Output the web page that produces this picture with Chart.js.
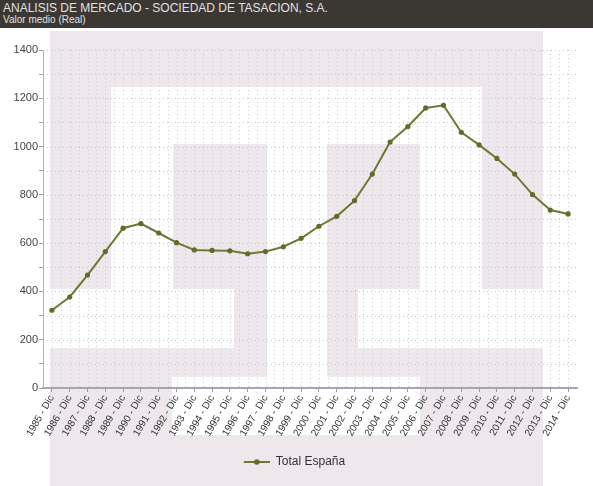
<!DOCTYPE html>
<html>
<head>
<meta charset="utf-8">
<script src="https://cdn.jsdelivr.net/npm/chart.js@4.4.1/dist/chart.umd.min.js"></script>
<style>
  html, body { margin: 0; padding: 0; background: #ffffff; }
  #wrap { position: relative; width: 593px; height: 486px; overflow: hidden; }
  #chart { position: absolute; left: 0; top: 0; }
  #head {
    position: absolute; left: 0; top: 0; width: 593px; height: 28px;
    background: #3b3834; color: #e0e0e0;
    font-family: "Liberation Sans", Arial, sans-serif;
  }
  #head .t1 { position: absolute; left: 3px; top: 1px; font-size: 12px; line-height: 14px; white-space: nowrap; }
  #head .t2 { position: absolute; left: 3px; top: 14px; font-size: 10px; line-height: 12px; white-space: nowrap; }
</style>
</head>
<body>
<div id="wrap">
  <canvas id="chart" width="593" height="486"></canvas>
  <div id="head">
    <div class="t1">ANALISIS DE MERCADO - SOCIEDAD DE TASACION, S.A.</div>
    <div class="t2">Valor medio (Real)</div>
  </div>
</div>
<script>
// Periods on the x axis
const categories = [
  '1985 - Dic', '1986 - Dic', '1987 - Dic', '1988 - Dic', '1989 - Dic',
  '1990 - Dic', '1991 - Dic', '1992 - Dic', '1993 - Dic', '1994 - Dic',
  '1995 - Dic', '1996 - Dic', '1997 - Dic', '1998 - Dic', '1999 - Dic',
  '2000 - Dic', '2001 - Dic', '2002 - Dic', '2003 - Dic', '2004 - Dic',
  '2005 - Dic', '2006 - Dic', '2007 - Dic', '2008 - Dic', '2009 - Dic',
  '2010 - Dic', '2011 - Dic', '2012 - Dic', '2013 - Dic', '2014 - Dic'
];

// Valor medio real, Total España
const totalEspana = [
  322, 377, 468, 565, 662, 681, 642, 602, 572, 570,
  568, 556, 565, 585, 620, 670, 711, 776, 886, 1019,
  1083, 1160, 1171, 1059, 1007, 951, 886, 801, 737, 721
];

const seriesName = 'Total España';
const yMin = 0, yMax = 1400, yStep = 100, yLabelStep = 200;

const LINE = '#6f7833';
const DOT = '#626c2a';
const FONT = '"Liberation Sans", Arial, sans-serif';

// Company logo watermark behind the plot (canvas pixels)
const logoBlocks = [
  [50, 31, 543, 87],
  [50, 87, 111, 289],
  [482, 87, 543, 289],
  [173, 144, 267, 289],
  [234, 289, 267, 377],
  [327, 144, 420, 289],
  [327, 289, 358, 377],
  [50, 348, 267, 377],
  [327, 348, 543, 377],
  [50, 377, 172, 435],
  [420, 377, 543, 435],
  [50, 435, 543, 486]
];

const backdrop = {
  id: 'backdrop',
  beforeDraw(chart) {
    const ctx = chart.ctx;
    ctx.save();
    ctx.fillStyle = '#ffffff';
    ctx.fillRect(0, 0, chart.width, chart.height);
    ctx.fillStyle = '#eee8ed';
    logoBlocks.forEach(([x1, y1, x2, y2]) => ctx.fillRect(x1, y1, x2 - x1, y2 - y1));
    ctx.restore();
  },
  beforeDatasetsDraw(chart) {
    // dotted grid: horizontal every 100, vertical at each period and half period
    const {ctx, chartArea: a, scales: {x, y}} = chart;
    ctx.save();
    ctx.lineWidth = 1;
    ctx.strokeStyle = '#c9c9d4';
    ctx.setLineDash([1, 3]);
    for (let v = yMin + yStep; v <= yMax; v += yStep) {
      const py = Math.round(y.getPixelForValue(v)) + 0.5;
      ctx.beginPath(); ctx.moveTo(a.left, py); ctx.lineTo(a.right, py); ctx.stroke();
    }
    const n = categories.length;
    for (let i = 0; i < n; i++) {
      const px = x.getPixelForTick(i);
      const half = i < n - 1 ? (x.getPixelForTick(i + 1) - px) / 2 : (px - x.getPixelForTick(i - 1)) / 2;
      [px, px + half].forEach(p => {
        if (p >= a.right - 1) return;
        const q = Math.round(p) + 0.5;
        ctx.beginPath(); ctx.moveTo(q, a.top); ctx.lineTo(q, a.bottom); ctx.stroke();
      });
    }
    ctx.restore();
  }
};

// legend marker: short line with a dot (left margin keeps the item centred)
function legendMarker() {
  const c = document.createElement('canvas');
  c.width = 38; c.height = 8;
  const g = c.getContext('2d');
  g.strokeStyle = LINE; g.lineWidth = 2;
  g.beginPath(); g.moveTo(12, 4); g.lineTo(38, 4); g.stroke();
  g.fillStyle = DOT;
  g.beginPath(); g.arc(25, 4, 2.8, 0, Math.PI * 2); g.fill();
  return c;
}
const marker = legendMarker();

new Chart(document.getElementById('chart'), {
  type: 'line',
  data: {
    labels: categories,
    datasets: [{
      label: seriesName,
      data: totalEspana,
      borderColor: LINE,
      backgroundColor: DOT,
      borderWidth: 2,
      pointRadius: 2.6,
      pointBackgroundColor: DOT,
      pointBorderWidth: 0,
      tension: 0,
      fill: false
    }]
  },
  options: {
    responsive: false,
    animation: false,
    layout: { padding: { left: 0, right: 16, top: 50, bottom: 8 } },
    plugins: {
      tooltip: { enabled: false },
      title: { display: false },
      legend: {
        position: 'bottom',
        labels: {
          usePointStyle: true,
          pointStyleWidth: 38,
          color: '#333333',
          font: { family: FONT, size: 12 },
          padding: 10,
          generateLabels(chart) {
            return chart.data.datasets.map((d, i) => ({
              text: d.label, pointStyle: marker, fontColor: '#333333',
              lineWidth: 0, strokeStyle: 'transparent', fillStyle: 'transparent',
              datasetIndex: i, hidden: false
            }));
          }
        }
      }
    },
    scales: {
      x: {
        type: 'category',
        offset: true,
        grid: { drawOnChartArea: false, drawTicks: true, tickLength: 4, tickColor: '#9a9aa8', offset: false },
        border: { display: true, color: '#a4a4b4', width: 2 },
        ticks: {
          autoSkip: false, minRotation: 60, maxRotation: 60,
          color: '#333333', font: { family: FONT, size: 10 }, padding: 1
        },
        afterFit(s) { s.height = 58; }
      },
      y: {
        min: yMin, max: yMax,
        grid: { drawOnChartArea: false, drawTicks: true, tickLength: 4, tickColor: '#a0a0a8' },
        border: { display: true, color: '#b0b0b8', width: 1 },
        ticks: {
          stepSize: yStep, color: '#444444', font: { family: FONT, size: 11 }, padding: 1,
          callback: v => (v % yLabelStep === 0 ? String(v) : '')
        },
        afterFit(s) { s.width = 43; }
      }
    }
  },
  plugins: [backdrop]
});
</script>
</body>
</html>
